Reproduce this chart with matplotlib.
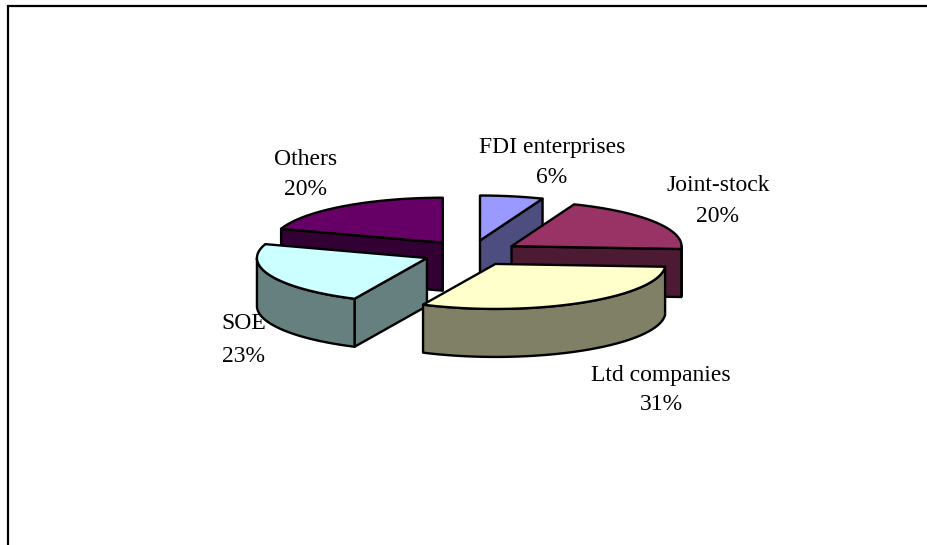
import numpy as np
import matplotlib
matplotlib.use("Agg")
import matplotlib.pyplot as plt
from matplotlib.colors import to_rgb
from matplotlib.lines import Line2D
from matplotlib.patches import Polygon

# slice data, clockwise from 12 o'clock
categories = ["FDI enterprises", "Joint-stock", "Ltd companies", "SOE", "Others"]
shares = [6, 20, 31, 23, 20]

top_colors = ["#9999FF", "#993366", "#FFFFCC", "#CCFFFF", "#660066"]

# label anchors: (x, name baseline, percent baseline) in pixels
label_pos = [(552, 153, 183), (718, 191, 222), (661, 381, 410),
             (244, 329, 362), (306, 165, 195)]

# pie geometry in pixels
cx, cy = 471, 253
rx, ry = 170, 45
depth = 48
explode = 48

W, H = 927, 545
fig = plt.figure(figsize=(W / 100, H / 100), dpi=100)
ax = fig.add_axes([0, 0, 1, 1])
ax.set_xlim(0, W)
ax.set_ylim(H, 0)
ax.axis("off")

# chart frame (only top and left edges fall inside the image)
ax.add_line(Line2D([8, 8, W], [H, 6, 6], color="black", lw=1.6, solid_joinstyle="miter"))

bounds = np.concatenate([[0], np.cumsum(shares)]) / sum(shares) * 360.0


def rim(t, ox, oy, z=0.0):
    t = np.radians(t)
    return np.column_stack([ox + rx * np.sin(t), oy - ry * np.cos(t) + z])


def face(pts, color, z):
    ax.add_patch(Polygon(pts, closed=True, facecolor=color, edgecolor="black",
                         lw=1.7, joinstyle="round", zorder=z))


order = [4, 0, 1, 3, 2]
z = 1
for i in order:
    t1, t2 = bounds[i], bounds[i + 1]
    mid = np.radians((t1 + t2) / 2)
    ox = cx + explode * np.sin(mid)
    oy = cy - explode * (ry / rx) * np.cos(mid)
    top = top_colors[i]
    side = tuple(c * 0.5 for c in to_rgb(top))
    apex = np.array([[ox, oy]])
    apex_lo = np.array([[ox, oy + depth]])

    # radial cut faces facing the viewer
    if np.sin(np.radians(t1)) < -1e-6:
        p = rim(np.array([t1]), ox, oy)
        q = rim(np.array([t1]), ox, oy, depth)
        face(np.vstack([apex, p, q, apex_lo]), side, z)
        z += 1
    if np.sin(np.radians(t2)) > 1e-6:
        p = rim(np.array([t2]), ox, oy)
        q = rim(np.array([t2]), ox, oy, depth)
        face(np.vstack([apex, p, q, apex_lo]), side, z)
        z += 1

    # front part of the outer wall
    a1, a2 = max(t1, 90), min(t2, 270)
    if a2 > a1:
        ts = np.linspace(a1, a2, 80)
        face(np.vstack([rim(ts, ox, oy), rim(ts[::-1], ox, oy, depth)]), side, z)
        z += 1

    ts = np.linspace(t1, t2, 120)
    face(np.vstack([apex, rim(ts, ox, oy)]), top, z)
    z += 1

for name, val, (x, y1, y2) in zip(categories, shares, label_pos):
    ax.text(x, y1, name, ha="center", va="baseline", fontsize=17,
            family="Liberation Serif", color="black")
    ax.text(x, y2, f"{val}%", ha="center", va="baseline", fontsize=17,
            family="Liberation Serif", color="black")

fig.savefig("out.png", dpi=100)
